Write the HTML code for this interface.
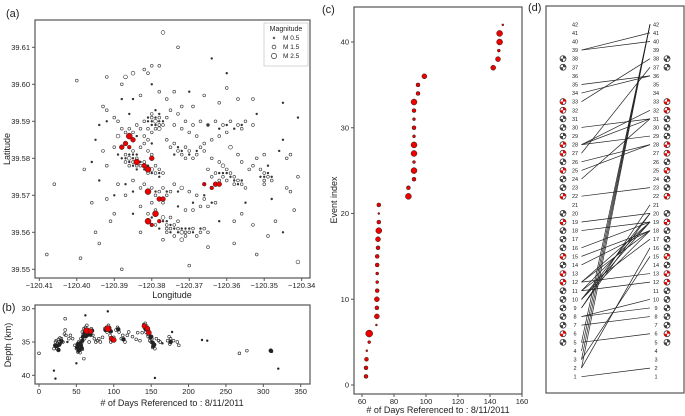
<!DOCTYPE html>
<html><head><meta charset="utf-8">
<style>
html,body{margin:0;padding:0;background:#fff;}
svg{display:block;font-family:"Liberation Sans",Arial,sans-serif;}
</style></head>
<body>
<svg id="fig" width="685" height="416" viewBox="0 0 685 416" xmlns="http://www.w3.org/2000/svg">
<rect width="685" height="416" fill="#fff"/>
<g id="pa"></g>
<g id="pb"></g>
<g id="pc"></g>
<g id="pd"></g>
</svg>
<script>
// ---------- data ----------
// panel a: lon offset thousandths (lon = -120 - v/1000), lat thousandths (lat = 39 + v/1000), magnitude
const mapLon=[380,379,378,380,379,381,378,377,380,379,378,381,387,386,385,384,386,385,383,382,384,387,388,385,383,382,381,380,379,378,377,378,381,380,388,387,386,385,384,383,382,381,380,384,389,390,389,381,379,378,377,376,375,376,374,373,372,371,370,369,368,367,366,365,374,377,372,373,375,379,380,383,383,382,380,379,378,377,376,375,374,372,370,368,366,365,363,367,369,371,373,376,375,374,373,372,371,370,369,368,367,366,368,370,372,374,376,375,373,371,369,367,365,363,361,359,357,356,355,353,360,362,364,366,364,362,361,360,359,358,357,356,355,361,362,363,364,365,350,349,348,350,351,349,350,352,346,344,344,343,359,357,356,354,353,381,382,380,378,373,377,388,387,392,400,385,383,378,374,372,376,369,366,362,360,357,353,385,393,392,390,389,386,398,396,395,394,391,390,392,392,393,406,408,399,388,370,365,358,352,341,349,356,358,353,347,345,342,341,343,341,345,360,364,394,385,389,387,383,380,377];
const mapLat=[591,590,589,589,588,590,591,590,592,593,588,588,581,580,579,580,578,581,578,579,577,579,580,582,583,584,582,581,578,577,576,575,576,577,588,587,588,587,586,588,586,585,584,589,586,583,581,565,566,563,564,562,561,560,562,561,560,559,560,561,559,560,561,560,559,558,558,563,564,562,564,560,572,573,572,570,571,572,570,571,573,572,571,570,569,567,568,567,566,566,567,585,583,584,582,581,583,582,580,581,583,584,586,587,588,589,591,593,592,590,589,590,589,590,589,590,589,588,590,589,587,586,585,582,580,579,578,577,576,575,574,573,572,575,574,576,575,577,576,575,574,574,577,578,581,580,582,580,572,571,583,581,579,577,578,603,604,605,605,610,614,600,602,602,601,603,597,598,598,594,596,594,597,595,599,596,596,596,594,593,591,590,592,577,568,560,557,563,565,569,578,582,573,554,553,550,551,556,557,554,552,559,565,563,562,563,560,566,575,581,591,595,603,607,589,574,573,570,567,568,568];
const mapMag=[1,1.5,1,0.5,1,0.5,1,0.5,1,0.5,1.5,1,1,1.5,1,1,1,0.5,1,1,0.5,1,0.5,1,1,1,1,1,1,1,1,0.5,1,1.5,1,1,1,1,0.5,1,1,1,0.5,1,1.5,1,0.5,1,1,1,1.5,1,1,1,1,1,1.5,1,1,1,1,1,1,1,1,1,1.5,1,1,1,0.5,1,1,1,1,1,1,1,1,1,1,1.5,1,1,1,1,1,1,1,1,0.5,1,1,1,1,1,1,1,1,1,1,1,1,1,1,1,1,1,1,1,1,1,1,1,1,1,1,1,1,1,1,1,1,1,1,1,1.5,1,1,1,1,1,1,1,1,1,1,1,1,1,1,1,1,0.5,1,1,0.5,1,1,1,1.5,1,1,1,1,1,1,1,1,1,1.5,1,1.5,1,1,1.5,1,1,1,1,1,1,1,1,1,1,1,0.5,1,1,1,1,0.5,1,1,1,1,1,1,1,1,1,1,1,1,1,1,1,1,1,1.5,1,1,1,1,1,0.5,1,1,1,0.5,0.5,0.5,0.5,0.5,1,1,1,1,1,1];
const mapLon2=[379,380,378,379,381,377,380,378,382,386,385,387,384,386,383,385,384,382,381,380,379,378,377,376,375,374,373,372,371,370,378,376,375,371,369,367,361,360,359,358,357,356,360,358,362,350,349,351,348,350,374,372,370,368,371,373,365,362,360,358,356,387,385,379,376,373,369,366,364,392,395,396,394,390,385,362,355,348,345,352,370,380,388];
const mapLat2=[591,590,590,589,591,589,587,592,590,581,580,580,581,579,579,578,578,577,578,576,576,576,563,563,562,561,560,561,561,561,561,561,560,560,560,561,576,576,575,574,573,574,574,573,576,575,576,575,575,573,581,582,581,582,580,583,589,588,589,588,589,573,571,571,571,571,568,570,568,590,585,579,574,570,565,563,568,569,585,592,598,600,596];
const mapMag2=[0.5,0.5,0.5,0.5,0.5,1,1,0.5,1,0.5,0.5,0.5,0.5,0.5,0.5,0.5,1,0.5,0.5,0.5,1,0.5,0.5,0.5,0.5,0.5,0.5,0.5,0.5,0.5,0.5,1,0.5,1,0.5,0.5,0.5,0.5,0.5,0.5,0.5,0.5,1,1,0.5,0.5,0.5,0.5,0.5,1,0.5,0.5,0.5,0.5,1,0.5,0.5,0.5,0.5,0.5,0.5,0.5,0.5,0.5,0.5,0.5,0.5,0.5,0.5,0.5,0.5,0.5,0.5,0.5,0.5,0.5,0.5,0.5,0.5,0.5,0.5,0.5,0.5];
const redLon=[386,387,385,388,386,384,382,381,380,381,378,377,381,379,380,378,363,362,364,366];
const redLat=[586,584,585,583,583,579,578,577,580,571,569,569,563,565,562,563,573,573,572,573];
const redMag=[2,1.5,1.5,1.5,1,2,1.5,2,1.5,2,1.5,1.5,2,2,1,1,1.5,1.5,1,1];
const lonTicks=[-120.41,-120.40,-120.39,-120.38,-120.37,-120.36,-120.35,-120.34];
const latTicks=[39.55,39.56,39.57,39.58,39.59,39.60,39.61];
// panel b
const bDay=[20,21,22,23,24,25,26,27,28,29,30,32,34,35,36,38,40,42,45,48,50,51,52,53,54,55,56,57,58,59,60,61,62,63,64,65,66,67,68,70,72,74,76,78,80,82,85,88,90,91,93,94,95,96,98,100,103,105,107,110,112,115,118,120,125,130,132,135,138,140,141,142,143,144,145,146,148,150,151,152,153,155,157,160,162,165,172,174,175,176,178,180,185,187,218,225,268,278,310,311,320,0,20,22,50,60,62,92,155,35,52,54,56,58,24,26,150,153,176,106,113,51,53,55,57,59,61,63,65,67,69,71,55,58,62,66,143,146,149,152,154,89,91,94,96,22,27,30];
const bDepth=[36,35.5,35,34.8,36,35.2,34.6,35,34.4,35.3,34.5,35,33.8,33.2,34,35,34.5,34,34.5,35.5,36,35.5,36.5,35,36,35.8,34.5,35.2,33.5,34,33,34.5,32.8,33.5,32.5,34,33.2,35,33.5,33,34,34.5,35,34.8,34.5,35,34.3,33,32.8,33.5,32.5,33.2,34,35,34.8,34.3,33.2,32.8,33.5,34.5,34,35,34,33.5,34.2,34.6,33.6,34.8,33.6,32.4,32.9,32.2,33.5,32.6,33.8,34.2,34.8,35,34.5,35.8,35.3,36,34.5,34.8,35,35.2,34.8,34.2,35.3,34.5,33.5,34.8,35,35.5,34.7,34.8,36.7,36.3,36.3,36.4,39,36.7,39.3,40.5,38.2,37.5,31,30.4,40.4,31.5,35.3,36.2,35.6,34.8,35.6,36.2,34.2,35.6,35,33.1,34.6,35.8,36.3,35.2,35.9,34.2,33.6,34.1,33.4,33.8,33.9,33.3,36.6,36.1,33.1,33.6,33.1,33.3,34.3,35.1,35.4,33.2,33.1,32.9,33.4,35.6,35.4,34.9];
const bMag=[1,1,1,1,1,1,1,1,1,0.5,1,1,1,1,1,0.5,1,1,1,1,1,1,1,1,1,1,1,1,1,1,1,1,1,1,1,1,1,1,1,1,1,1,1,1,1,1,1,1,1,1,1,1,1,1,1,1,1,1,1,1,1,1,1,1,1,1,1,1,1,1,1,1,1,1,1,1,1,1,1,1,1,1,1,1,1,0.5,1,1,1,1,0.5,1,1,1,0.5,0.5,1,1,1.5,1,0.5,1,0.5,0.5,0.5,1,0.5,0.5,0.5,1,1.5,1.5,1.5,1.5,1.5,1.5,1.5,1.5,1.5,1.5,1.5,1.5,1.5,1.5,1.5,1.5,1.5,1.5,1.5,1.5,1.5,1.5,1,1,1,1,1.5,1.5,1.5,1.5,1.5,1.5,1.5,1.5,1.5,1.5,1.5,1.5];
const bRedDay=[64,69,92,97,100,141,145,147];
const bRedDepth=[33.3,33.4,33,34.5,34.7,32.6,33,33.6];
const bRedMag=[2,1.5,2,1.5,1.5,1.5,1.5,1.5];
const dayTicks=[0,50,100,150,200,250,300,350];
const depthTicks=[30,35,40];
// panel c
const cDay=[62.5,62.5,62.8,63,64.5,64.5,69,69.3,69.3,69.3,69.5,69.5,69.5,69.5,69.5,70,70,70.5,70.5,70.5,70.5,89,89,92.5,92.5,92.5,92.5,92.5,92.5,92.5,92.5,92.5,92.5,95,95,99,142,145,145.5,146,146,148];
const cSize=[2,2,2,1,1.5,3.5,1,2.5,2,2.5,2,1.5,1.5,2,2,2,2.5,3,2,1,2,3,2,2,3,1.5,3,3,1.5,2,1.5,2,3,2,2,2.5,2.5,2.5,1.5,3,3,1];
const cXTicks=[60,80,100,120,140,160];
const cYTicks=[0,10,20,30,40];
// panel d
const dLeft=[39,39,35,34,33,27,30,28,28,28,26,25,24,22,19,18,16,15,14,12,12,12,11,11,11,10,10,9,9,8,8,7,5,5,3,2,2,1,4,3,10];
const dRight=[41,40,36,36,38,37,31,32,31,29,28,28,31,23,20,19,19,18,18,19,18,13,17,12,19,18,19,21,20,10,9,8,6,42,42,42,16,2,42,15,20];
const dBallRows=[38,37,33,32,31,30,29,28,27,26,25,24,23,22,20,19,18,17,16,15,14,13,12,11,10,9,8,7,6,5];
const dBallRed=[0,0,1,1,0,0,0,1,1,0,1,0,0,1,0,1,0,0,0,1,0,1,1,0,0,0,0,0,1,0];

// ---------- helpers ----------
const NS="http://www.w3.org/2000/svg";
function mk(parent,tag,attrs){const e=document.createElementNS(NS,tag);for(const k in attrs)e.setAttribute(k,attrs[k]);parent.appendChild(e);return e;}
function txt(parent,x,y,s,size,anchor,rot){const t=mk(parent,'text',{x:x,y:y,'font-size':size,'text-anchor':anchor||'middle',fill:'#222'});if(rot)t.setAttribute('transform','rotate(-90 '+x+' '+y+')');t.textContent=s;return t;}
function box(parent,x0,y0,x1,y1){return mk(parent,'rect',{x:x0,y:y0,width:x1-x0,height:y1-y0,fill:'none',stroke:'#555','stroke-width':1.2});}
function rad(m){return m<=0.5?0.9:(m<=1?1.4:(m<=1.5?1.9:2.5));}

// ---------- panel a ----------
(function(){
const g=document.getElementById('pa');
const X=lon=>39.3+(lon+120.41)/0.07*262.4;
const Y=lat=>269.3-(lat-39.55)/0.06*222;
const fr=box(g,35,20,310,278);

const l=txt(g,6,17,'(a)',11,'start');
lonTicks.forEach(v=>{const x=X(v);mk(g,'line',{x1:x,x2:x,y1:278,y2:281,stroke:'#555'});const t=txt(g,x,288,v.toFixed(2).replace('-','\u2212'),7.5);});
latTicks.forEach(v=>{const y=Y(v);mk(g,'line',{x1:32,x2:35,y1:y,y2:y,stroke:'#555'});const t=txt(g,30,y+2.5,v.toFixed(2),7.5,'end');});
const xt=txt(g,172,298,'Longitude',9);
const yt=txt(g,10,149,'Latitude',9,'middle',true);
function pts(L,A,M){
 for(let i=0;i<L.length;i++){
  const c=mk(g,'circle',{cx:X(-120-L[i]/1000),cy:Y(39+A[i]/1000),r:rad(M[i]),fill:M[i]<=0.5?'#333':'none',stroke:'#333','stroke-width':0.6});
  
  
 }
}
pts(mapLon,mapLat,mapMag);
pts(mapLon2,mapLat2,mapMag2);
for(let i=0;i<redLon.length;i++){
 const c=mk(g,'circle',{cx:X(-120-redLon[i]/1000),cy:Y(39+redLat[i]/1000),r:rad(redMag[i])+0.5,fill:'#e00',stroke:'#222','stroke-width':0.5});
 
 
}
const lg=mk(g,'g',{});
mk(lg,'rect',{x:264,y:23,width:44,height:43,fill:'#fff',stroke:'#bbb','stroke-width':0.6});
txt(lg,286,31,'Magnitude',7);
[['M 0.5',0.9],['M 1.5',1.9],['M 2.5',2.6]].forEach((e,i)=>{const y=40+i*9;mk(lg,'circle',{cx:274,cy:y-2,r:e[1],fill:'none',stroke:'#333','stroke-width':0.7});const t=txt(lg,283,y,e[0],6.5,'start');});
})();

// ---------- panel b ----------
(function(){
const g=document.getElementById('pb');
const X=d=>39+d*(261.7/350);
const Y=z=>308.7+(z-30)*6.66;
const fr=box(g,35,305,310,384);
const l=txt(g,2,311,'(b)',11,'start');
dayTicks.forEach(v=>{const x=X(v);mk(g,'line',{x1:x,x2:x,y1:384,y2:387,stroke:'#555'});const t=txt(g,x,394,String(v),7.5);});
depthTicks.forEach(v=>{const y=Y(v);mk(g,'line',{x1:32,x2:35,y1:y,y2:y,stroke:'#555'});const t=txt(g,30,y+2.5,String(v),7.5,'end');});
const xt=txt(g,172,406,'# of Days Referenced to : 8/11/2011',9);
const yt=txt(g,11,345,'Depth (km)',9,'middle',true);
for(let i=0;i<bDay.length;i++){
 const c=mk(g,'circle',{cx:X(bDay[i]),cy:Y(bDepth[i]),r:rad(bMag[i]),fill:bMag[i]<=0.5||bMag[i]>=1.5?'#222':'none',stroke:'#222','stroke-width':0.6});
 
 
}
for(let i=0;i<bRedDay.length;i++){
 const c=mk(g,'circle',{cx:X(bRedDay[i]),cy:Y(bRedDepth[i]),r:rad(bRedMag[i])+0.6,fill:'#e00',stroke:'#222','stroke-width':0.5});
 
 
}
})();

// ---------- panel c ----------
(function(){
const g=document.getElementById('pc');
const X=d=>362+(d-60)*1.6;
const Y=v=>385-v*8.575;
const fr=box(g,354,7,522,394);
const l=txt(g,322,13,'(c)',11,'start');
cXTicks.forEach(v=>{const x=X(v);mk(g,'line',{x1:x,x2:x,y1:394,y2:397,stroke:'#555'});const t=txt(g,x,404,String(v),7.5);});
cYTicks.forEach(v=>{const y=Y(v);mk(g,'line',{x1:351,x2:354,y1:y,y2:y,stroke:'#555'});const t=txt(g,349,y+2.5,String(v),7.5,'end');});
const xt=txt(g,438,413,'# of Days Referenced to : 8/11/2011',9);
const yt=txt(g,337,200,'Event index',9,'middle',true);
for(let i=0;i<cDay.length;i++){
 const c=mk(g,'circle',{cx:X(cDay[i]),cy:Y(i+1),r:cSize[i],fill:'#e00',stroke:'#222','stroke-width':0.5});
 
 
}
})();

// ---------- panel d ----------
(function(){
const g=document.getElementById('pd');
const Y=r=>376.7-(r-1)*8.595;
const fr=box(g,546,6,684,393);
const l=txt(g,528,11,'(d)',11,'start');
for(let r=1;r<=42;r++){
 const a=txt(g,575,Y(r)+2,String(r),5.5);
 const b=txt(g,656,Y(r)+2,String(r),5.5);
}
for(let i=0;i<dLeft.length;i++){
 const ln=mk(g,'line',{x1:581.5,y1:Y(dLeft[i]),x2:650,y2:Y(dRight[i]),stroke:'#222','stroke-width':0.7});
 
 
}
function ball(cx,cy,red){
 const bg=mk(g,'g',{});
 
 
 mk(bg,'circle',{cx:cx,cy:cy,r:3,fill:'#fff',stroke:'#222','stroke-width':0.7});
 mk(bg,'path',{d:'M'+cx+' '+cy+' L'+(cx+3)+' '+cy+' A3 3 0 0 0 '+cx+' '+(cy-3)+' Z',fill:red?'#e00':'#444'});
 mk(bg,'path',{d:'M'+cx+' '+cy+' L'+(cx-3)+' '+cy+' A3 3 0 0 0 '+cx+' '+(cy+3)+' Z',fill:red?'#e00':'#444'});
}
for(let i=0;i<dBallRows.length;i++){ball(563,Y(dBallRows[i]),dBallRed[i]);ball(667,Y(dBallRows[i]),dBallRed[i]);}
})();
</script>
</body></html>
